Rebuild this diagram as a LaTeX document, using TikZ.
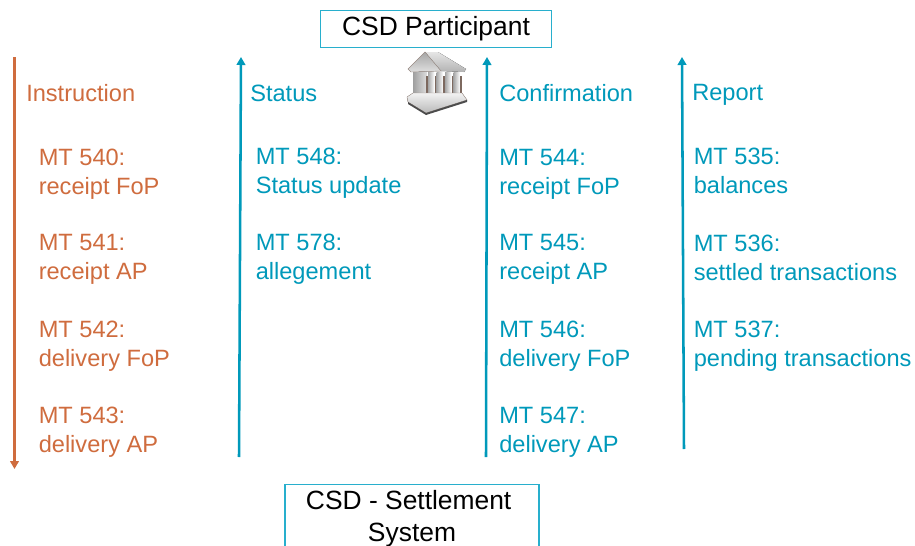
\documentclass[tikz,border=0pt]{standalone}
\usepackage{fontspec}
\setmainfont{Liberation Sans}
\usetikzlibrary{arrows.meta}
\definecolor{orangec}{RGB}{207,108,62}
\definecolor{tealc}{RGB}{0,153,186}
\definecolor{boxc}{RGB}{40,175,205}
\definecolor{gapc}{RGB}{125,105,95}
\tikzset{
 lab/.style={anchor=base west,font=\fontsize{17.7}{21.75}\selectfont,inner sep=0pt},
 msg/.style={anchor=west,font=\fontsize{17.7}{21.75}\selectfont,inner sep=0pt,align=left},
 boxn/.style={draw=boxc,line width=0.9pt,font=\fontsize{19.8}{24}\selectfont,align=center,inner sep=0pt},
 arr/.style={line width=1.9pt,-{Triangle[length=6pt,width=6.5pt]}}
}
\begin{document}
\begin{tikzpicture}[x=0.75pt,y=-0.75pt]
\useasboundingbox (0,0) rectangle (915,546);
\clip (0,0) rectangle (915,546);
% boxes
\node[boxn,minimum width=173pt,minimum height=28pt] (top) at (436,29) {CSD Participant};
\node[boxn,minimum width=190.5pt,minimum height=51pt,anchor=north] (bot) at (412,484) {CSD - Settlement\hspace*{5pt}\\System};
% arrows
\coordinate (a1) at (14.5,57); \coordinate (a2) at (14.5,469);
\coordinate (b1) at (239,457); \coordinate (b2) at (241,57);
\coordinate (c1) at (486,457); \coordinate (c2) at (487,57);
\coordinate (d1) at (684,449); \coordinate (d2) at (682,57);
\draw[arr,orangec] (a1) -- (a2);
\draw[arr,tealc] (b1) -- (b2);
\draw[arr,tealc] (c1) -- (c2);
\draw[arr,tealc] (d1) -- (d2);
% headers
\node[lab,text=orangec] (h1) at (26,101) {Instruction};
\node[lab,text=tealc] (h2) at (250,101) {Status};
\node[lab,text=tealc] (h3) at (499,101) {Confirmation};
\node[lab,text=tealc] (h4) at (692,100) {Report};
% column 1
\node[msg,text=orangec] (m540) at (38.5,174) {MT 540:\\receipt FoP};
\node[msg,text=orangec] (m541) at (38.5,259) {MT 541:\\receipt AP};
\node[msg,text=orangec] (m542) at (38.5,346.5) {MT 542:\\delivery FoP};
\node[msg,text=orangec] (m543) at (38.5,432.5) {MT 543:\\delivery AP};
% column 2
\node[msg,text=tealc] (m548) at (255.5,173) {MT 548:\\Status update};
\node[msg,text=tealc] (m578) at (255.5,259) {MT 578:\\allegement};
% column 3
\node[msg,text=tealc] (m544) at (499,174) {MT 544:\\receipt FoP};
\node[msg,text=tealc] (m545) at (499,259) {MT 545:\\receipt AP};
\node[msg,text=tealc] (m546) at (499,346.5) {MT 546:\\delivery FoP};
\node[msg,text=tealc] (m547) at (499,432.5) {MT 547:\\delivery AP};
% column 4
\node[msg,text=tealc] (m535) at (693.5,171) {MT 535:\\balances};
\node[msg,text=tealc] (m536) at (693.5,257.5) {MT 536:\\settled transactions};
\node[msg,text=tealc] (m537) at (693.5,346) {MT 537:\\pending transactions};
% bank icon
\fill[left color=gray!75,right color=gray!25] (413,71) rectangle (427,95);
\fill[gapc] (426,76) rectangle (462,95);
\foreach \x in {431,439.5,448,456.5}{
  \fill[left color=gray!70,right color=white] (\x-3,72) rectangle (\x+3.4,96);
}
\fill[top color=gray!20,bottom color=gray!60] (438,52) -- (466,69) -- (464,72) -- (441,71) -- (425,52) -- cycle;
\fill[top color=gray!70,bottom color=gray!25,draw=gapc!70,line width=0.3pt] (425,52) -- (408,69) -- (411,72) -- (441,71) -- cycle;
\fill[top color=gray!10,bottom color=gray!55,draw=gapc!70,line width=0.3pt] (413,93) -- (462,93) -- (467,100) -- (426,113) -- (408,102) -- (407,97) -- cycle;
\fill[gray!60!black] (408,102) -- (426,113) -- (467,100) -- (467,102) -- (426,115) -- (408,104) -- cycle;
\end{tikzpicture}
\end{document}
